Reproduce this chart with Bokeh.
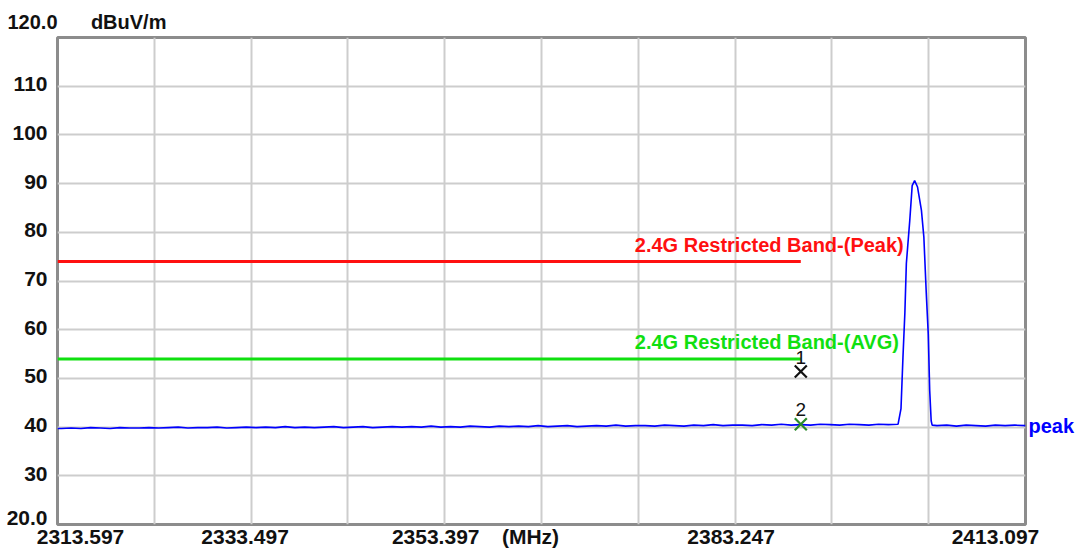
from bokeh.plotting import figure
from bokeh.models import FixedTicker, Range1d, ColumnDataSource, LinearAxis, Title
from bokeh.embed import file_html
from bokeh.resources import INLINE
from bokeh.core.properties import value

# ---------------- data ----------------
F_START = 2313.597
F_STOP = 2413.097
Y_MIN, Y_MAX = 20.0, 120.0

y_ticks = [20, 30, 40, 50, 60, 70, 80, 90, 100, 110]
y_tick_labels = ["20.0", "30", "40", "50", "60", "70", "80", "90", "100", "110"]
y_top_label = "120.0"

x_tick_freqs = [2313.597, 2333.497, 2353.397, 2363.347, 2383.247, 2413.097]
x_tick_labels = ["2313.597", "2333.497", "2353.397", "(MHz)", "2383.247", "2413.097"]

y_unit = "dBuV/m"

# noise floor left of the carrier, 1 MHz sweep points from 2314 MHz
floor_left_start = 2314.0
floor_left_levels = [
    39.7, 39.8, 39.7, 39.9, 39.8, 39.7, 39.9, 39.8, 39.8, 39.9,
    39.8, 39.9, 40.0, 39.8, 39.9, 39.9, 40.0, 39.8, 39.9, 40.0,
    39.9, 40.0, 39.9, 40.1, 39.9, 40.0, 39.9, 40.0, 40.1, 39.9,
    40.0, 40.1, 39.9, 40.0, 40.1, 40.0, 40.1, 40.0, 40.2, 40.0,
    40.1, 40.0, 40.2, 40.1, 40.0, 40.2, 40.1, 40.2, 40.1, 40.3,
    40.1, 40.2, 40.3, 40.1, 40.2, 40.3, 40.2, 40.4, 40.2, 40.3,
    40.3, 40.2, 40.4, 40.3, 40.2, 40.4, 40.3, 40.5, 40.3, 40.4,
    40.4, 40.3, 40.5, 40.4, 40.6, 40.4, 40.5, 40.4, 40.6, 40.5,
    40.4, 40.6, 40.5, 40.4, 40.6, 40.5, 40.6,
]
# carrier
peak_freqs = [2400.30, 2400.50, 2400.70, 2400.85, 2401.20, 2401.45, 2401.70,
              2402.00, 2402.40, 2402.65, 2402.90, 2403.10, 2403.25, 2403.40, 2403.50]
peak_levels = [43.8, 54.3, 63.6, 73.6, 82.4, 89.6, 90.6,
               89.3, 84.5, 79.0, 67.4, 59.2, 47.5, 41.3, 40.4]
# noise floor right of the carrier
floor_right_freqs = [2404.0, 2405.0, 2406.0, 2407.0, 2408.0, 2409.0, 2410.0,
                     2411.0, 2412.0, 2413.097]
floor_right_levels = [40.3, 40.4, 40.2, 40.4, 40.3, 40.2, 40.4, 40.3, 40.4, 40.3]
trace_name = "peak"

limit_names = ["2.4G Restricted Band-(Peak)", "2.4G Restricted Band-(AVG)"]
limit_levels = [74.0, 54.0]
limit_end = 2390.0
limit_colors = ["#ff1010", "#10e010"]

marker_ids = ["1", "2"]
marker_freqs = [2390.0, 2390.0]
marker_levels = [51.4, 40.6]
marker_colors = ["#111111", "#2a8a2a"]

# ---------------- layout / style ----------------
W, H = 1080, 551
B_LEFT, B_TOP, B_RIGHT, B_BOTTOM = 57, 37, 55, 27
FRAME_W = W - B_LEFT - B_RIGHT
FRAME_H = H - B_TOP - B_BOTTOM
MHZ_PER_PX = (F_STOP - F_START) / FRAME_W
DB_PER_PX = (Y_MAX - Y_MIN) / FRAME_H
x_label_shift_px = [23, -6, -9, -11, -4, -30]
y_label_shift_px = [7, 2, 2, 2, 2, 2, 2, 2, 2, 2]

FONT_NAME = "Liberation Sans"
FONT = value(FONT_NAME)
TXT = "#111111"

# ---------------- assemble trace ----------------
trace_f = [F_START] + [floor_left_start + i for i in range(len(floor_left_levels))] \
    + peak_freqs + floor_right_freqs
trace_l = [floor_left_levels[0]] + floor_left_levels + peak_levels + floor_right_levels

p = figure(width=W, height=H,
           x_range=Range1d(F_START, F_STOP), y_range=Range1d(Y_MIN, Y_MAX),
           output_backend="svg", toolbar_location=None,
           min_border_left=B_LEFT, min_border_right=B_RIGHT,
           min_border_top=B_TOP, min_border_bottom=B_BOTTOM)
p.background_fill_color = "white"
p.border_fill_color = "white"
p.outline_line_color = "#8c8c8c"
p.outline_line_width = 3

# grid on the 10 divisions
div = (F_STOP - F_START) / 10
p.xgrid.ticker = FixedTicker(ticks=[F_START + i * div for i in range(11)])
p.ygrid.ticker = FixedTicker(ticks=y_ticks + [Y_MAX])
for g in (p.xgrid, p.ygrid):
    g.grid_line_color = "#cdcdcd"
    g.grid_line_width = 2


def style_axis(ax, size="21px", color=TXT, standoff=4):
    ax.axis_line_color = None
    ax.major_tick_line_color = None
    ax.minor_tick_line_color = None
    ax.major_tick_out = 0
    ax.major_tick_in = 0
    ax.minor_tick_out = 0
    ax.major_label_standoff = standoff
    ax.major_label_text_font = FONT_NAME
    ax.major_label_text_font_style = "bold"
    ax.major_label_text_font_size = size
    ax.major_label_text_color = color


# x axis labels
x_pos = [round(f + s * MHZ_PER_PX, 3) for f, s in zip(x_tick_freqs, x_label_shift_px)]
p.xaxis.ticker = FixedTicker(ticks=x_pos)
p.xaxis.major_label_overrides = {k: t for k, t in zip(x_pos, x_tick_labels)}
style_axis(p.xaxis[0], standoff=0)

# y axis labels
y_pos = [round(v + s * DB_PER_PX, 3) for v, s in zip(y_ticks, y_label_shift_px)]
p.yaxis.ticker = FixedTicker(ticks=y_pos)
p.yaxis.major_label_overrides = {k: t for k, t in zip(y_pos, y_tick_labels)}
style_axis(p.yaxis[0], standoff=10)

# trace name on the right at the trace end level
end_level = trace_l[-1]
rax = LinearAxis(ticker=FixedTicker(ticks=[end_level]),
                 major_label_overrides={end_level: trace_name})
style_axis(rax, size="20px", color="#0000ff", standoff=3)
p.add_layout(rax, "right")

# top-left: scale top value and unit
NBSP = "\u00a0"
p.title = Title(text=y_top_label + NBSP * 6 + y_unit, align="left", offset=-50,
                text_font=FONT_NAME, text_font_style="bold", text_font_size="20px",
                text_color=TXT, standoff=9)

# limit lines
lim_src = ColumnDataSource(dict(x0=[F_START] * 2, x1=[limit_end] * 2,
                                y=limit_levels, name=limit_names, color=limit_colors))
p.segment(x0="x0", x1="x1", y0="y", y1="y", color="color", line_width=3, source=lim_src)
p.text(x="x1", y="y", text="name", text_color="color", source=lim_src,
       text_font=FONT, text_font_style="bold", text_font_size="20px",
       text_align="left", text_baseline="bottom", x_offset=-166, y_offset=-6)

# trace
p.line(trace_f, trace_l, color="#0000ff", line_width=1.6)

# markers
mk_src = ColumnDataSource(dict(x=marker_freqs, y=marker_levels, t=marker_ids, c=marker_colors))
p.scatter(x="x", y="y", marker="x", size=17, line_width=2.2, color="c", source=mk_src)
p.text(x="x", y="y", text="t", source=mk_src, text_color=TXT,
       text_font=FONT, text_font_size="19px", text_align="center",
       text_baseline="bottom", y_offset=-8)

open("out.html", "w").write(file_html(p, INLINE))
